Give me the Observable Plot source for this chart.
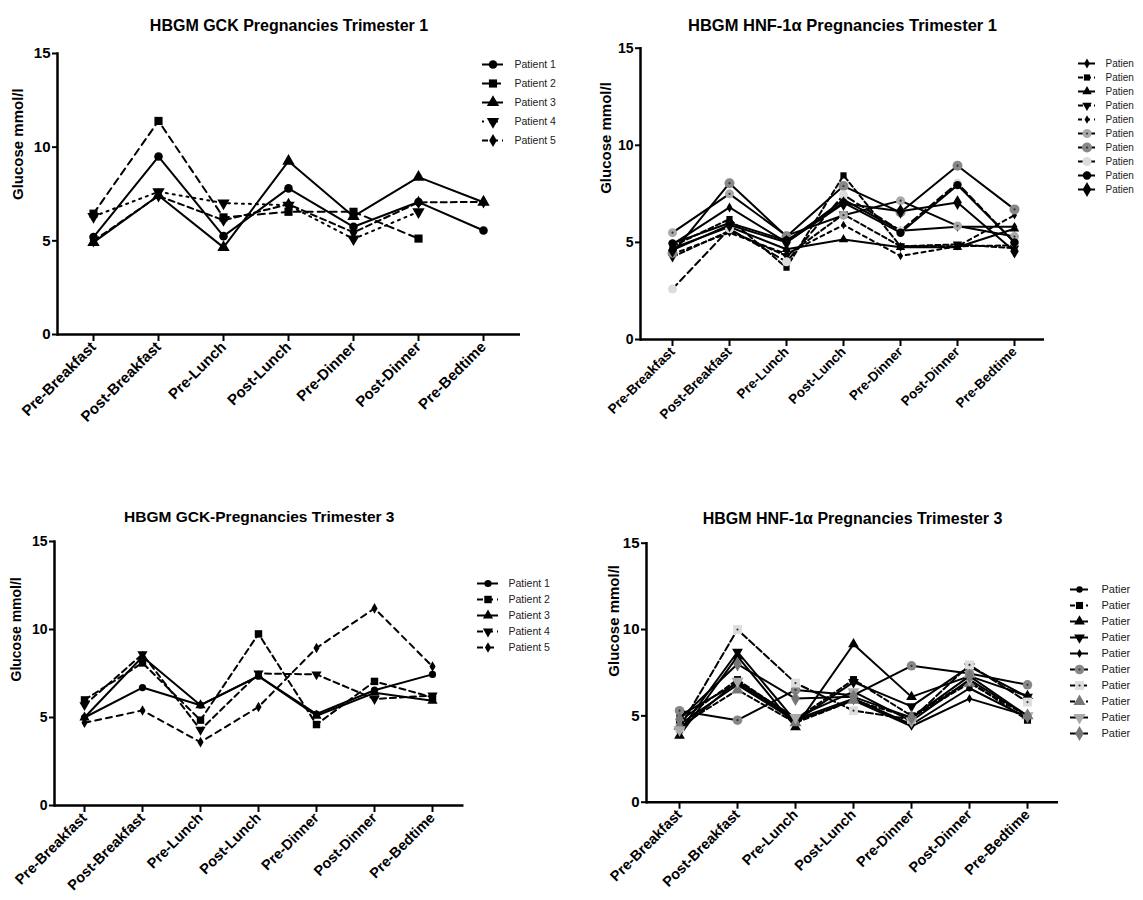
<!DOCTYPE html>
<html><head><meta charset="utf-8">
<script src="https://cdn.jsdelivr.net/npm/d3@7"></script>
<script src="https://cdn.jsdelivr.net/npm/@observablehq/plot@0.6"></script>
<style>
body{margin:0;background:#fff;}
#root{position:relative;width:1143px;height:900px;overflow:hidden;background:#fff;font-family:"Liberation Sans",Arial,sans-serif;}
.abs{position:absolute;}
#root svg{max-width:none !important;}
</style></head><body><div id="root"></div>
<script>
// ---------- DATA ----------
const times = ["Pre-Breakfast","Post-Breakfast","Pre-Lunch","Post-Lunch","Pre-Dinner","Post-Dinner","Pre-Bedtime"];
const yTicks = [0, 5, 10, 15];
const yLabel = "Glucose mmol/l";

const gckT1Title = "HBGM GCK Pregnancies Trimester 1";
const gckT1Names = ["Patient 1","Patient 2","Patient 3","Patient 4","Patient 5"];
const gckT1Values = [
  [5.2, 9.5, 5.25, 7.8, 5.75, 7.07, 5.55],
  [6.45, 11.4, 6.25, 6.55, 6.55, 5.12, null],
  [4.92, 7.42, 4.65, 9.25, 6.3, 8.4, 7.06],
  [6.3, 7.62, 7.02, 6.9, 5.1, 6.55, null],
  [5.0, 7.4, 6.1, 6.95, 5.45, 7.05, 7.08]
];

const hnfT1Title = "HBGM HNF-1\u03b1 Pregnancies Trimester 1";
// legend labels as they appear (truncated) in the reference
const hnfT1Names = ["Patien","Patien ","Patien  ","Patien   ","Patien    ","Patien     ","Patien      ","Patien       ","Patien        ","Patien         "];
const hnfT1Values = [
  [4.9, 6.8, 5.0, 7.2, 5.6, 5.8, 5.8],
  [4.8, 6.2, 3.7, 8.45, 4.8, 4.8, 4.85],
  [4.7, 5.8, 4.65, 5.15, 4.75, 4.75, 5.7],
  [4.25, 5.6, 4.3, 6.45, 4.8, 4.9, 4.7],
  [4.4, 5.5, 4.4, 5.9, 4.3, 4.8, 6.4],
  [5.5, 7.5, 5.35, 6.4, 7.15, 5.85, 5.3],
  [4.45, 8.05, 5.3, 7.9, 6.55, 8.95, 6.7],
  [2.6, 5.7, 4.0, 7.45, 5.6, 8.05, 5.0],
  [4.95, 6.0, 5.1, 7.05, 5.5, 7.95, 5.0],
  [4.6, 5.9, 5.0, 7.0, 6.6, 7.05, 4.55]
];

const gckT3Title = "HBGM GCK-Pregnancies Trimester 3";
const gckT3Names = ["Patient 1","Patient 2","Patient 3","Patient 4","Patient 5"];
const gckT3Values = [
  [5.0, 6.7, 5.7, 7.35, 5.2, 6.55, 7.45],
  [6.0, 8.1, 4.85, 9.75, 4.6, 7.05, 6.15],
  [5.0, 8.45, 5.7, 7.35, 5.1, 6.4, 5.95],
  [5.7, 8.6, 4.3, 7.5, 7.45, 6.05, 6.25],
  [4.7, 5.4, 3.6, 5.6, 8.95, 11.2, 7.9]
];

const hnfT3Title = "HBGM HNF-1\u03b1 Pregnancies Trimester 3";
const hnfT3Names = ["Patier","Patier ","Patier  ","Patier   ","Patier    ","Patier     ","Patier      ","Patier       ","Patier        ","Patier         "];
const hnfT3Values = [
  [5.0, 6.9, 4.8, 6.0, 4.5, 6.6, 4.9],
  [4.7, 7.1, 4.8, 7.1, 5.0, 7.0, 4.75],
  [3.85, 8.45, 4.35, 9.15, 6.1, 7.3, 6.15],
  [4.1, 8.7, 4.7, 6.95, 5.55, 7.85, 6.1],
  [4.5, 6.8, 4.7, 5.9, 4.4, 6.0, 5.0],
  [5.3, 4.75, 6.5, 6.2, 7.9, 7.45, 6.8],
  [4.3, 10.0, 6.9, 5.3, 4.8, 7.95, 5.8],
  [4.4, 6.5, 4.6, 5.9, 4.9, 6.9, 5.0],
  [4.2, 7.0, 4.9, 6.4, 4.7, 7.1, 5.0],
  [4.8, 8.0, 6.0, 6.1, 4.9, 7.3, 5.0]
];

// ---------- STYLES ----------
const FONT = '"Liberation Sans", Arial, sans-serif';
const triDown = {
  draw(context, size) {
    const y = -Math.sqrt(size / (Math.sqrt(3) * 3));
    context.moveTo(0, -y * 2);
    context.lineTo(-Math.sqrt(3) * y, y);
    context.lineTo(Math.sqrt(3) * y, y);
    context.closePath();
  }
};

const gckT1Styles = [
  {dash: null, symbol: "circle", r: 4.3, fill: "#000"},
  {dash: "7,5", symbol: "square", r: 4.6, fill: "#000"},
  {dash: null, symbol: "triangle", r: 4.6, fill: "#000"},
  {dash: "2,5", symbol: triDown, r: 4.6, fill: "#000"},
  {dash: "6,4", symbol: "diamond", r: 4, fill: "#000"}
];
const hnfT1Styles = [
  {dash: null, symbol: "diamond", r: 3, fill: "#000"},
  {dash: "5,3", symbol: "square", r: 3.5, fill: "#000"},
  {dash: null, symbol: "triangle", r: 3.5, fill: "#000"},
  {dash: "5,3", symbol: triDown, r: 3.5, fill: "#000"},
  {dash: "4,4", symbol: "diamond", r: 2.6, fill: "#000"},
  {dash: null, symbol: "circle", r: 4.5, fill: "#aaaaaa", center: true},
  {dash: null, symbol: "circle", r: 5, fill: "#888888", center: true},
  {dash: "7,4", symbol: "circle", r: 4.5, fill: "#dcdcdc"},
  {dash: null, symbol: "circle", r: 4.2, fill: "#000"},
  {dash: null, symbol: "diamond", r: 4.5, fill: "#000"}
];
const gckT3Styles = [
  {dash: null, symbol: "circle", r: 3.6, fill: "#000"},
  {dash: "6,4", symbol: "square", r: 4.2, fill: "#000"},
  {dash: null, symbol: "triangle", r: 3.8, fill: "#000"},
  {dash: "6,4", symbol: triDown, r: 3.8, fill: "#000"},
  {dash: "6,5", symbol: "diamond", r: 3.2, fill: "#000"}
];
const hnfT3Styles = [
  {dash: null, symbol: "circle", r: 3.2, fill: "#000"},
  {dash: "5,3", symbol: "square", r: 4, fill: "#000"},
  {dash: null, symbol: "triangle", r: 4, fill: "#000"},
  {dash: null, symbol: triDown, r: 4, fill: "#000"},
  {dash: null, symbol: "diamond", r: 2.8, fill: "#000"},
  {dash: null, symbol: "circle", r: 4.8, fill: "#888888", center: true},
  {dash: "7,3", symbol: "square", r: 5, fill: "#dddddd", center: true},
  {dash: "5,3", symbol: "triangle", r: 4.5, fill: "#777777"},
  {dash: null, symbol: triDown, r: 4.5, fill: "#aaaaaa"},
  {dash: null, symbol: "diamond", r: 4.5, fill: "#777777"}
];

// ---------- DRAWING ----------
const root = document.getElementById("root");

function place(node, left, top, w, h) {
  const div = document.createElement("div");
  div.className = "abs";
  div.style.left = left + "px";
  div.style.top = top + "px";
  div.style.width = w + "px";
  div.style.height = h + "px";
  div.appendChild(node);
  root.appendChild(div);
}

function drawPanel(c) {
  const marks = [];
  c.names.forEach((name, i) => {
    const st = c.styles[i];
    const d = c.values[i].map((v, j) => ({time: times[j], value: v}));
    marks.push(Plot.line(d, {x: "time", y: "value", stroke: "#000", strokeWidth: c.lineWidth,
      ...(st.dash ? {strokeDasharray: st.dash} : {})}));
    marks.push(Plot.dot(d, {x: "time", y: "value", symbol: st.symbol, r: st.r, fill: st.fill}));
    if (st.center) marks.push(Plot.dot(d, {x: "time", y: "value", r: 1.1, fill: "#333"}));
  });
  const svg = Plot.plot({
    width: c.width, height: c.height,
    marginLeft: c.ml, marginRight: c.mr, marginTop: c.mt, marginBottom: c.mb,
    x: {type: "point", domain: times, range: c.xRange, padding: 0},
    y: {domain: [0, 15]},
    style: {fontFamily: FONT, color: "#000", background: "transparent", overflow: "visible", maxWidth: "none"},
    marks: [
      Plot.axisY({ticks: yTicks, tickSize: 5, tickPadding: 2, fontSize: c.yTickFont, fontWeight: "bold", strokeWidth: 2, label: null}),
      Plot.axisX({tickRotate: -45, tickSize: 7, tickPadding: 3, fontSize: c.xTickFont, fontWeight: "bold", strokeWidth: 2, label: null}),
      Plot.ruleY([0], {strokeWidth: 2.5}),
      Plot.frame({anchor: "left", strokeWidth: 2.5}),
      Plot.text([c.title], {frameAnchor: "top", dy: c.titleDy, fontSize: c.titleFont, fontWeight: "bold"}),
      Plot.text([yLabel], {frameAnchor: "left", dx: c.ylDx, dy: c.ylDy, rotate: -90, fontSize: c.ylFont, fontWeight: "bold"}),
      ...marks
    ]
  });
  place(svg, c.left, c.top, c.width, c.height);
}

function drawLegend(c) {
  const marks = [];
  c.names.forEach((name, i) => {
    const st = c.styles[i];
    marks.push(Plot.ruleY([name], {stroke: "#000", strokeWidth: 2, ...(st.dash ? {strokeDasharray: st.dash} : {})}));
    marks.push(Plot.dot([name], {y: d => d, symbol: st.symbol, r: st.r, fill: st.fill}));
    if (st.center) marks.push(Plot.dot([name], {y: d => d, r: 1.1, fill: "#333"}));
  });
  marks.push(Plot.text(c.names, {y: d => d, text: d => d.trim(), frameAnchor: "right", dx: c.dx, textAnchor: "start", fontSize: c.font, fill: "#222"}));
  const svg = Plot.plot({
    width: c.width, height: c.height,
    marginLeft: 0, marginRight: c.width - c.lineLen, marginTop: 0, marginBottom: 0,
    y: {type: "point", domain: c.names, range: c.rows, axis: null},
    style: {fontFamily: FONT, color: "#000", background: "transparent", overflow: "visible", maxWidth: "none"},
    marks
  });
  place(svg, c.left, c.top, c.width, c.height);
}

drawPanel({left: 0, top: 0, width: 570, height: 440, ml: 57, mr: 50, mt: 53, mb: 106,
  xRange: [90.5, 486], names: gckT1Names, values: gckT1Values, styles: gckT1Styles, lineWidth: 2,
  title: gckT1Title, titleDy: -34, titleFont: 16, ylDx: -39, ylDy: 6, ylFont: 15, yTickFont: 15, xTickFont: 15});
drawLegend({left: 482, top: 40, width: 88, height: 130, lineLen: 21, rows: [12.7, 112], dx: 11, font: 10.5,
  names: gckT1Names, styles: gckT1Styles});

drawPanel({left: 570, top: 0, width: 573, height: 440, ml: 70, mr: 99, mt: 47.7, mb: 101,
  xRange: [99.5, 445.5], names: hnfT1Names, values: hnfT1Values, styles: hnfT1Styles, lineWidth: 2,
  title: hnfT1Title, titleDy: -28.7, titleFont: 16.5, ylDx: -34, ylDy: 0, ylFont: 15, yTickFont: 14, xTickFont: 13.5});
drawLegend({left: 1078, top: 40, width: 60, height: 175, lineLen: 17, rows: [11.7, 161], dx: 10, font: 10,
  names: hnfT1Names, styles: hnfT1Styles});

drawPanel({left: 0, top: 460, width: 570, height: 440, ml: 54, mr: 106.5, mt: 81, mb: 95,
  xRange: [82.5, 434], names: gckT3Names, values: gckT3Values, styles: gckT3Styles, lineWidth: 2,
  title: gckT3Title, titleDy: -31, titleFont: 15.5, ylDx: -38, ylDy: 8, ylFont: 14, yTickFont: 14, xTickFont: 14.5});
drawLegend({left: 477, top: 560, width: 93, height: 110, lineLen: 21, rows: [13.7, 96], dx: 10, font: 10.5,
  names: gckT3Names, styles: gckT3Styles});

drawPanel({left: 570, top: 460, width: 573, height: 440, ml: 76, mr: 85, mt: 82.7, mb: 98.3,
  xRange: [106.3, 459], names: hnfT3Names, values: hnfT3Values, styles: hnfT3Styles, lineWidth: 2,
  title: hnfT3Title, titleDy: -30.7, titleFont: 16, ylDx: -32, ylDy: 4, ylFont: 15, yTickFont: 15, xTickFont: 14.5});
drawLegend({left: 1070, top: 570, width: 70, height: 185, lineLen: 18, rows: [10.7, 172], dx: 13, font: 11,
  names: hnfT3Names, styles: hnfT3Styles});
</script></body></html>
